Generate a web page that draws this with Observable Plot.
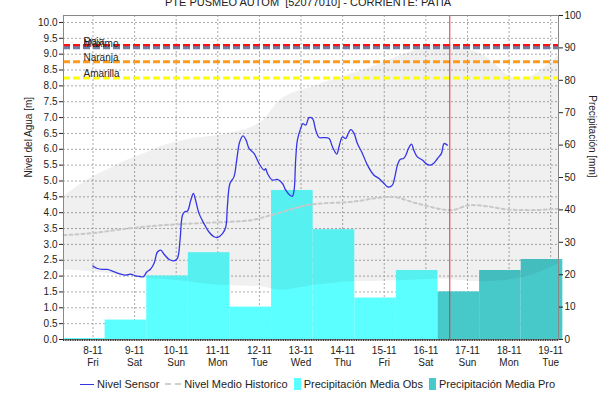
<!DOCTYPE html>
<html><head><meta charset="utf-8">
<script src="https://cdn.jsdelivr.net/npm/d3@7"></script>
<script src="https://cdn.jsdelivr.net/npm/@observablehq/plot@0.6"></script>
<style>
body{margin:0;background:#fff;font-family:"Liberation Sans",Arial,sans-serif;}
#wrap{position:relative;width:616px;height:405px;overflow:hidden;}
#title{position:absolute;top:-3px;left:0;width:616px;text-align:center;font-size:11px;line-height:11px;color:#222;white-space:pre;}
#chart{position:absolute;top:0;left:0;}
#legend{position:absolute;top:378px;left:80px;font-size:11px;line-height:12px;display:flex;align-items:center;color:#222;white-space:nowrap;}
#legend .sw{display:inline-block;margin-right:3px;}
</style></head><body>
<div id="wrap"><div id="title"></div><div id="chart"></div><div id="legend"></div></div>
<script>
const title = "PTE PUSMEO AUTOM  [52077010] - CORRIENTE: PATIA";
const dayTicks = ["8-11","9-11","10-11","11-11","12-11","13-11","14-11","15-11","16-11","17-11","18-11","19-11"];
const dayNames = ["Fri","Sat","Sun","Mon","Tue","Wed","Thu","Fri","Sat","Sun","Mon","Tue"];
const levelTicks = [0,0.5,1,1.5,2,2.5,3,3.5,4,4.5,5,5.5,6,6.5,7,7.5,8,8.5,9,9.5,10];
const precipTicks = [0,10,20,30,40,50,60,70,80,90,100];

// hours since 2024-11-08 00:00
const sensorHours = [0,2.5,5.4,8.3,11.2,15,18.9,21.7,24.6,29.1,31,33,35.2,37.2,39.1,41,43.8,46.7,48.7,50.2,51.6,52.9,54.5,56.4,57.9,59.2,61.2,64,66.9,69.8,71.8,74.7,76.6,77.5,79,81.3,82.9,84.6,86.5,88.3,90,92.9,95.8,98.7,99.6,100.6,103.5,106.4,109.3,111.2,113.6,115,116,116.9,117.9,119.8,121.1,122.7,124.6,126.6,128.5,130.4,133.3,136.2,138.1,140.6,141.9,143.9,145.8,146.8,148.7,150.6,152.5,155.4,158.3,162.1,165,167.9,170.2,172.7,174.1,175.6,177.1,179.1,180.4,182,183.7,185.2,187.1,190,192.5,194.4,196.7,198.7,201,202.5,204.5];
const sensorLevel = [2.32,2.24,2.21,2.21,2.16,2.08,2.03,2.06,2.01,1.98,2.13,2.21,2.40,2.76,2.82,2.69,2.53,2.48,2.56,3.13,3.92,4.03,4.05,4.39,4.61,4.39,3.97,3.66,3.39,3.24,3.22,3.34,3.55,4.18,4.92,5.13,5.66,6.23,6.42,6.29,6.03,5.87,5.55,5.34,5.39,5.24,5.03,5.05,4.92,4.71,4.55,4.52,4.71,5.66,6.29,6.66,6.81,6.76,7.00,6.97,6.60,6.37,6.37,6.34,6.08,5.85,6.08,6.39,6.34,6.44,6.62,6.50,6.18,5.87,5.50,5.18,5.08,4.92,4.81,4.87,5.13,5.50,5.68,5.71,5.81,6.03,6.16,5.95,5.76,5.66,5.53,5.50,5.57,5.71,5.87,6.18,6.13];

const medianHours = [-17,0.4,19.8,39,58,77.5,91,102.5,127.3,148.7,171.7,187.1,206.4,218,227.7,239.2,252.5,269];
const medianLevel = [3.29,3.36,3.5,3.6,3.66,3.71,3.76,3.92,4.27,4.34,4.5,4.29,4.08,4.24,4.2,4.1,4.08,4.13];

const bandHours = [-17,0,6,20,29,39,50,58,70,78,97,108,128,150,166,175,200,224,246,269];
const bandLow   = [2.19,2.13,2.1,2.0,1.93,1.9,1.85,1.8,1.72,1.7,1.66,1.55,1.71,1.82,1.84,1.85,1.9,1.82,1.93,2.4];
const bandHigh  = [4.5,5.13,5.29,5.66,5.85,6.08,6.25,6.34,6.42,6.5,6.86,7.55,8.0,8.4,8.7,8.9,9.3,9.0,8.2,9.0];

// daily precipitation (mm), days start at 07:00
const obsStartHour = -17;
const obsPrecip = [0.3, 6.0, 19.6, 26.8, 10.0, 46.0, 33.9, 12.8, 21.3];
const proPrecip = [14.7, 21.3, 24.7];

const thresholdNames  = ["Roja","Máximo","Naranja","Amarilla"];
const thresholdLevels = [9.27, 9.2, 8.76, 8.25];
const thresholdColors = ["#ff1010","#6d7fa6","#ff9a1a","#ffff00"];

const nowHour = 205.8;
const domainHours = [-17, 268.5];

// ---------------------------------------------------------------
const base = Date.UTC(2024, 10, 8);
const T = h => new Date(base + h * 3600e3);
const yMax = 10.22;
const K = yMax / 100; // mm -> level axis units

const sensor = sensorHours.map((h, i) => ({t: T(h), v: sensorLevel[i]}));
const median = medianHours.map((h, i) => ({t: T(h), v: medianLevel[i]}));
const band = bandHours.map((h, i) => ({t: T(h), lo: bandLow[i], hi: bandHigh[i]}));
const obs = obsPrecip.map((mm, i) => ({t1: T(obsStartHour + 24*i), t2: T(obsStartHour + 24*(i+1)), mm}));
const proStart = obsStartHour + 24*obsPrecip.length;
const pro = proPrecip.map((mm, i) => ({t1: T(proStart + 24*i), t2: T(proStart + 24*(i+1)), mm}));
const thresholds = thresholdNames.map((n, i) => ({n, v: thresholdLevels[i], c: thresholdColors[i]}));
const tickDates = dayTicks.map((_, i) => T(24*i));
const hourly = d3.utcHour.every(1).range(T(domainHours[0]), T(domainHours[1]));
const fmtX = d => { const i = Math.round((d - base) / 864e5); return dayTicks[i] + "\n" + dayNames[i]; };

const chart = Plot.plot({
  width: 616, height: 372,
  marginTop: 15, marginLeft: 63, marginRight: 58, marginBottom: 33,
  style: {fontFamily: "'Liberation Sans', Arial, sans-serif", fontSize: "10px", color: "#222", background: "transparent"},
  x: {type: "utc", domain: [T(domainHours[0]), T(domainHours[1])]},
  y: {domain: [0, yMax]},
  marks: [
    Plot.gridY(levelTicks, {stroke: "#aaa", strokeOpacity: 1, strokeDasharray: "2,2"}),
    Plot.gridX(tickDates, {stroke: "#aaa", strokeOpacity: 1, strokeDasharray: "2,2"}),
    Plot.rectY(obs, {x1: "t1", x2: "t2", y1: 0, y2: d => d.mm * K, fill: "#5cffff"}),
    Plot.rectY(pro, {x1: "t1", x2: "t2", y1: 0, y2: d => d.mm * K, fill: "#48c9c9"}),
    Plot.areaY(band, {x: "t", y1: "lo", y2: "hi", fill: "#000", fillOpacity: 0.06, curve: "monotone-x"}),
    Plot.line(median, {x: "t", y: "v", stroke: "#c8c8c8", strokeWidth: 2, strokeDasharray: "3,3", curve: "monotone-x"}),
    Plot.ruleY(thresholds, {y: "v", stroke: "c", strokeWidth: 3, strokeDasharray: "7,3"}),
    Plot.text(thresholds, {y: "v", text: "n", frameAnchor: "left", dx: 20, textAnchor: "start", lineAnchor: "bottom", dy: -1, fill: "#222", fontSize: 10}),
    Plot.line(sensor, {x: "t", y: "v", stroke: "#3535e8", strokeWidth: 1.3, curve: "catmull-rom"}),
    Plot.ruleX([T(nowHour)], {stroke: "#e03030", strokeWidth: 1}),
    Plot.frame({stroke: "#888"}),
    Plot.axisY(levelTicks, {anchor: "left", tickFormat: d => d.toFixed(1), tickSize: 4, tickPadding: 2, label: null}),
    Plot.axisY(precipTicks.map(v => v * K), {anchor: "right", tickFormat: d => String(Math.round(d / K)), tickSize: 4, tickPadding: 2, label: null}),
    Plot.axisX(hourly, {anchor: "bottom", tickSize: 2, tickFormat: () => "", label: null, stroke: "#333"}),
    Plot.axisX(tickDates, {anchor: "bottom", tickSize: 0, tickPadding: 6, lineHeight: 1.2, tickFormat: fmtX, label: null}),
    Plot.text(["Nivel del Agua [m]"], {text: d => d, frameAnchor: "left", dx: -35, rotate: -90, fontSize: 10}),
    Plot.text(["Precipitación [mm]"], {text: d => d, frameAnchor: "right", dx: 34, rotate: 90, fontSize: 10})
  ]
});
document.getElementById("chart").appendChild(chart);
document.getElementById("title").textContent = title;

const legendItems = [
  {label: "Nivel Sensor", sw: '<span class="sw" style="width:14px;border-top:1.5px solid #3535e8"></span>'},
  {label: "Nivel Medio Historico", sw: '<span class="sw" style="width:16px;border-top:2px dashed #cfcfcf"></span>'},
  {label: "Precipitación Media Obs", sw: '<span class="sw" style="width:7px;height:12px;background:#5cffff"></span>'},
  {label: "Precipitación Media Pro", sw: '<span class="sw" style="width:7px;height:12px;background:#48c9c9"></span>'}
];
document.getElementById("legend").innerHTML = legendItems.map(it =>
  `<span style="display:inline-flex;align-items:center;margin-right:6px">${it.sw}${it.label}</span>`).join("");
</script>
</body></html>
